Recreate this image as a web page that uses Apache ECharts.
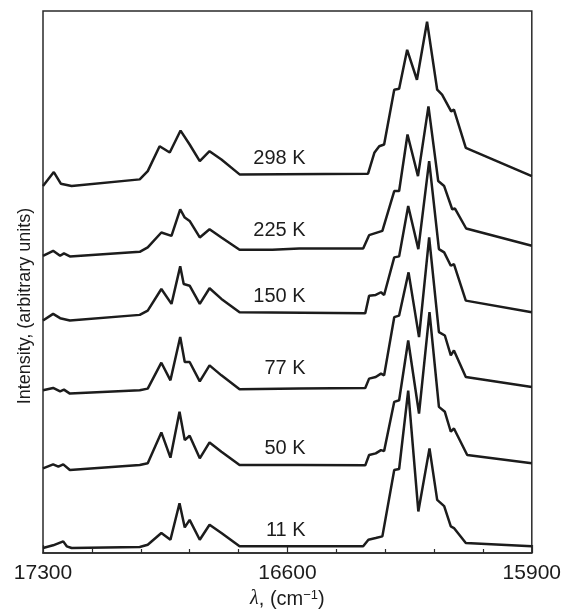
<!DOCTYPE html>
<html>
<head>
<meta charset="utf-8">
<script src="https://cdn.jsdelivr.net/npm/echarts@6/dist/echarts.min.js"></script>
<style>
  html, body { margin: 0; padding: 0; background: #fff; }
  #chart { width: 564px; height: 614px; }
</style>
</head>
<body>
<div id="chart"></div>
<script>
// spectra: [wavenumber cm-1, intensity above own baseline]
const t298 = [[17300,-11.7],[17269,2.3],[17249,-9.3],[17218,-11.7],[17023,-5],[17000,3.3],[16966,28.3],[16937,22],[16906,44],[16880,30],[16851,13.3],[16823,23.3],[16789,15],[16737,0],[16369,0.7],[16351,21.7],[16337,28.3],[16323,30],[16294,85],[16280,86],[16257,125],[16229,95],[16200,153.3],[16171,85],[16157,80],[16131,63.3],[16123,65],[16089,26.7],[15900,-1.7]];
const t225 = [[17300,-6.7],[17271,-1.7],[17251,-6.7],[17240,-4.3],[17223,-7.3],[17023,-2.7],[17000,1.7],[16961,16.7],[16932,13.3],[16907,40],[16894,31.7],[16880,28.3],[16851,11.7],[16823,20],[16789,11.7],[16737,-0.7],[16643,-0.7],[16566,0.7],[16383,0.7],[16366,14],[16328,18.3],[16294,58.3],[16280,58.3],[16256,115],[16226,73.3],[16196,143.3],[16168,68.3],[16151,63.3],[16128,40],[16120,40.7],[16088,20.7],[15900,3.3]];
const t150 = [[17300,-7.7],[17271,-1],[17251,-5.3],[17223,-7.7],[17023,-2],[17000,2.3],[16961,24],[16932,9],[16907,46.7],[16897,29],[16880,27.3],[16851,9],[16823,24.7],[16789,14],[16737,0.7],[16377,-0.3],[16366,17.3],[16347,18],[16332,20.7],[16323,18],[16294,55.7],[16280,56.7],[16254,107.3],[16225,64],[16194,152.3],[16166,64],[16151,60.7],[16132,47.3],[16123,49],[16089,12.3],[15900,0.7]];
const t77 = [[17300,-1.7],[17271,0.7],[17251,-2.7],[17240,-1],[17223,-5],[17023,-1.7],[17000,0],[16961,26],[16935,8.3],[16907,51.7],[16894,26.7],[16880,26.7],[16851,7.3],[16823,23.3],[16789,13.3],[16737,-0.7],[16566,0],[16377,0.7],[16366,10],[16347,11.7],[16332,15],[16323,13.3],[16294,71.7],[16280,73.3],[16253,116.7],[16223,51.7],[16194,151.7],[16166,56.7],[16149,53.3],[16132,33.3],[16123,38.3],[16089,11.7],[15900,1.7]];
const t50 = [[17300,-3.5],[17271,0.5],[17256,-1.8],[17242,0.5],[17223,-5.2],[17023,-0.2],[17000,1.5],[16961,32.5],[16935,7.2],[16909,53.2],[16894,24.8],[16880,29.2],[16851,6.5],[16823,22.5],[16789,13.2],[16737,-0.2],[16566,-0.2],[16377,-0.5],[16366,9.8],[16347,11.5],[16332,14.8],[16323,13.8],[16294,63.2],[16280,64.8],[16254,124.8],[16223,51.5],[16193,153.2],[16166,58.2],[16149,53.2],[16132,33.2],[16123,36.5],[16085,9.8],[15900,1.5]];
const t11 = [[17300,-1.5],[17271,1.2],[17242,5.2],[17232,0.2],[17218,-1.5],[17023,-0.5],[17000,1.8],[16961,13.5],[16935,6.8],[16909,43.5],[16894,19.2],[16880,26.8],[16851,6.8],[16823,21.8],[16789,13.5],[16737,0.2],[16566,0.2],[16383,0.2],[16368,6.8],[16347,8.5],[16328,10.2],[16294,76.8],[16280,77.8],[16254,156.5],[16225,35.2],[16193,98.5],[16171,46.8],[16151,40.5],[16132,20.2],[16123,18.5],[16089,3.5],[15900,0.2]];

const temps = ['298 K', '225 K', '150 K', '77 K', '50 K', '11 K'];
const spectra = [t298, t225, t150, t77, t50, t11];
const offsets = [380, 305, 241, 165, 88.5, 6.5];   // vertical stacking of curves
const labelLevels = [396, 324, 257, 185, 105, 23];
const labelX = 16548;
const xTicks = [17300, 16600, 15900];

const chart = echarts.init(document.getElementById('chart'));

const series = spectra.map((pts, i) => ({
  name: temps[i],
  type: 'line',
  showSymbol: false,
  silent: true,
  lineStyle: { color: '#1c1c1c', width: 2.5 },
  data: pts.map(p => [p[0], p[1] + offsets[i]]),
  markPoint: {
    symbol: 'circle',
    symbolSize: 0,
    silent: true,
    label: {
      show: true,
      position: 'left',
      distance: 0,
      formatter: temps[i],
      color: '#1c1c1c',
      fontSize: 20,
      fontFamily: 'Liberation Sans, Arial, sans-serif'
    },
    data: [{ coord: [labelX, labelLevels[i]] }]
  }
}));

chart.setOption({
  animation: false,
  backgroundColor: '#fff',
  grid: {
    left: 43,
    right: 31,
    top: 11,
    bottom: 59,
    show: true,
    borderColor: '#2a2a2a',
    borderWidth: 1.5
  },
  xAxis: {
    type: 'value',
    inverse: true,
    min: xTicks[2],
    max: xTicks[0],
    interval: 700,
    name: '{i|λ}{t|, (cm}{s|−1}{t|)}',
    nameLocation: 'middle',
    nameGap: 36,
    nameTextStyle: {
      rich: {
        i: { fontSize: 20, fontStyle: 'italic', color: '#1c1c1c', fontFamily: 'Liberation Serif, serif' },
        t: { fontSize: 20, color: '#1c1c1c', fontFamily: 'Liberation Sans, Arial, sans-serif' },
        s: { fontSize: 13, color: '#1c1c1c', verticalAlign: 'top', fontFamily: 'Liberation Sans, Arial, sans-serif' }
      }
    },
    axisLine: { show: true, lineStyle: { color: '#2a2a2a', width: 1.5 } },
    axisTick: { show: true, inside: true, length: 8, lineStyle: { color: '#2a2a2a', width: 1.2 } },
    minorTick: { show: true, splitNumber: 5, length: 4, lineStyle: { color: '#2a2a2a', width: 1.2 } },
    splitLine: { show: false },
    minorSplitLine: { show: false },
    axisLabel: {
      margin: 10,
      fontSize: 21,
      color: '#1c1c1c',
      fontFamily: 'Liberation Sans, Arial, sans-serif',
      formatter: v => String(v)
    }
  },
  yAxis: {
    type: 'value',
    min: 0,
    max: 544,
    show: false
  },
  graphic: [{
    type: 'text',
    x: 25,
    y: 306,
    rotation: Math.PI / 2,
    style: {
      text: 'Intensity, (arbitrary units)',
      fontSize: 18,
      fill: '#1c1c1c',
      fontFamily: 'Liberation Sans, Arial, sans-serif',
      align: 'center',
      verticalAlign: 'middle'
    }
  }],
  series: series
});
</script>
</body>
</html>
